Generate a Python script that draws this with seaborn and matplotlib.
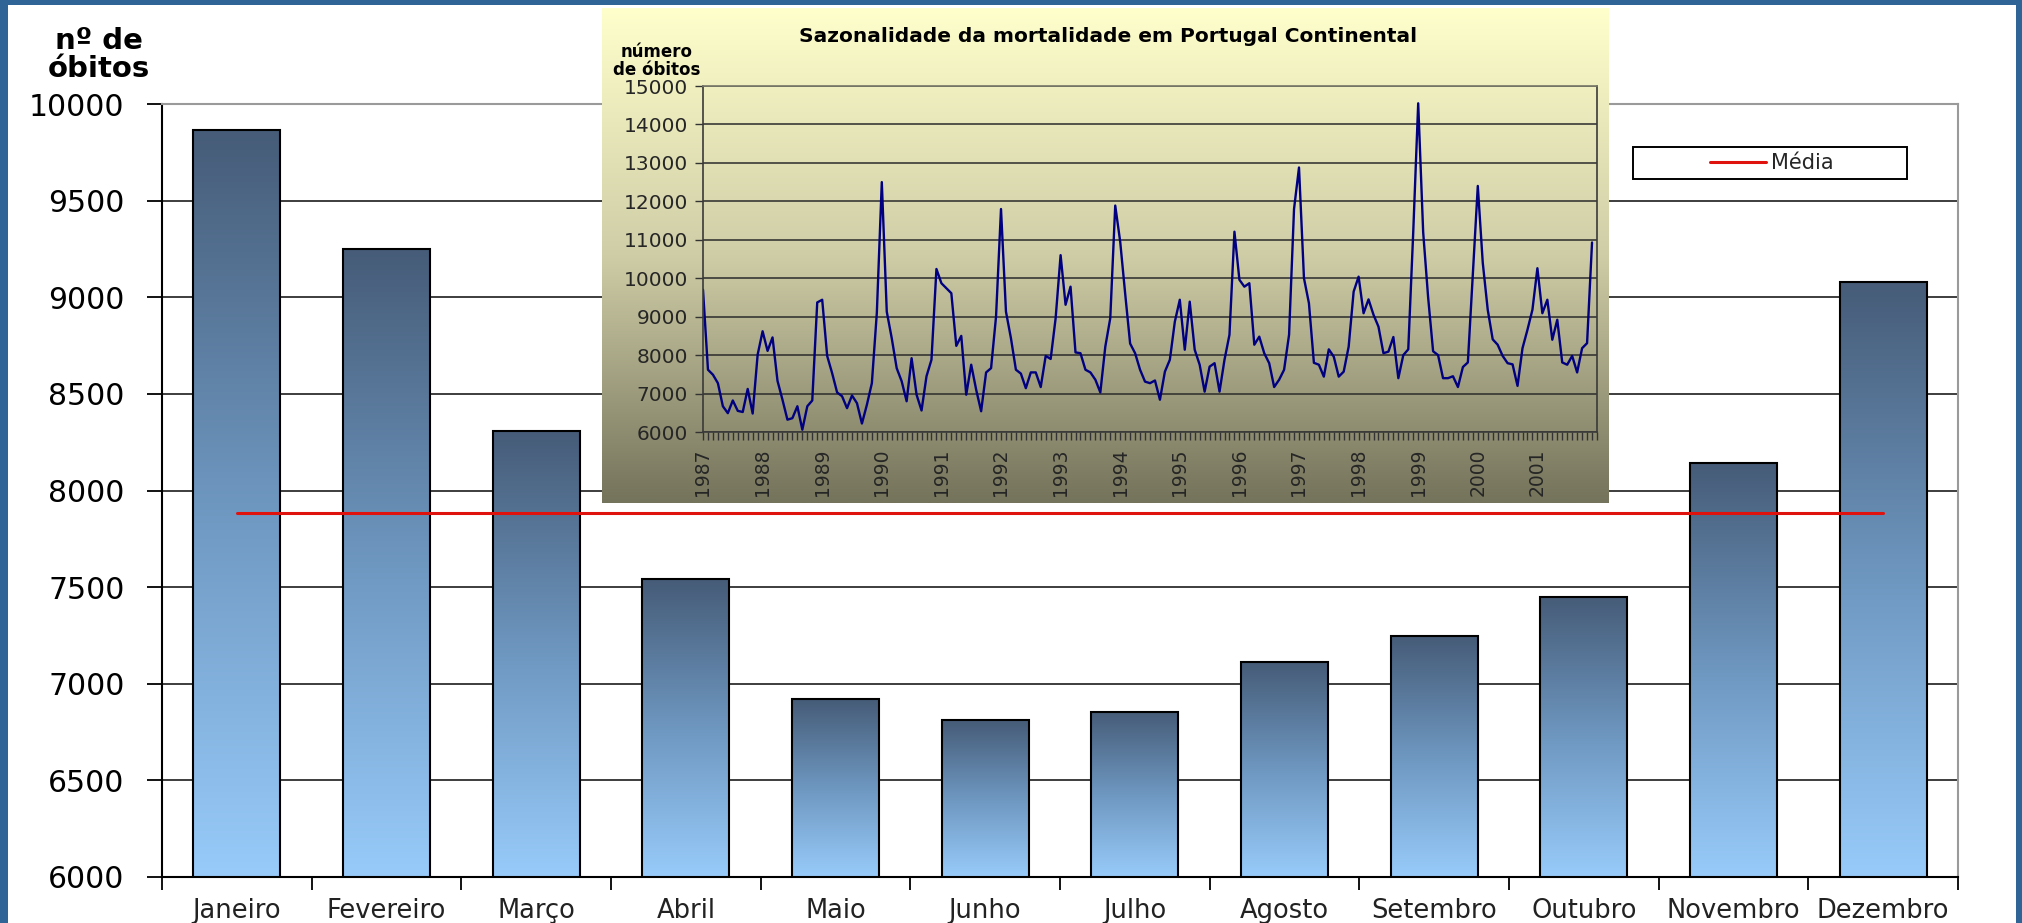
import numpy as np
import pandas as pd
import matplotlib
matplotlib.use("Agg")
import matplotlib.pyplot as plt
import seaborn as sns
from matplotlib.colors import LinearSegmentedColormap
from matplotlib.patches import Rectangle
from matplotlib.ticker import MultipleLocator

# media mensal de obitos (grafico de barras)
meses = ["Janeiro", "Fevereiro", "Março", "Abril", "Maio", "Junho",
         "Julho", "Agosto", "Setembro", "Outubro", "Novembro", "Dezembro"]
obitos_mes = [9865, 9250, 8310, 7540, 6920, 6810, 6855, 7110, 7245, 7450, 8140, 9080]
media = 7885

# serie mensal 1987-2001 (grafico inserido)
ano_inicial = 1987
anos_rotulo = list(range(1987, 2002))
obitos_mensais = [
    9700, 7620, 7490, 7270, 6670, 6490, 6820, 6550, 6520, 7120, 6480, 8010,      # 1987
    8620, 8110, 8460, 7330, 6840, 6320, 6360, 6670, 6060, 6670, 6820, 9370,      # 1988
    9440, 7980, 7530, 7030, 6930, 6620, 6950, 6750, 6220, 6710, 7270, 9100,      # 1989
    12500, 9130, 8440, 7660, 7320, 6800, 7920, 6970, 6560, 7450, 7880, 10240,    # 1990
    9870, 9740, 9610, 8240, 8500, 6970, 7750, 7100, 6540, 7550, 7660, 9000,      # 1991
    11800, 9130, 8440, 7620, 7520, 7140, 7550, 7550, 7170, 7980, 7900, 8960,     # 1992
    10600, 9310, 9780, 8070, 8050, 7620, 7550, 7360, 7030, 8220, 8960, 11890,    # 1993
    10950, 9600, 8300, 8050, 7620, 7310, 7270, 7340, 6840, 7570, 7880, 8870,     # 1994
    9440, 8140, 9390, 8140, 7750, 7050, 7700, 7790, 7050, 7880, 8530, 11210,     # 1995
    9960, 9780, 9870, 8270, 8480, 8050, 7790, 7170, 7360, 7620, 8530, 11800,     # 1996
    12880, 10000, 9350, 7800, 7750, 7440, 8150, 7960, 7440, 7570, 8220, 9650,    # 1997
    10040, 9090, 9450, 9050, 8740, 8050, 8090, 8470, 7400, 8000, 8150, 11200,    # 1998
    14550, 11200, 9500, 8100, 8000, 7400, 7400, 7450, 7170, 7690, 7810, 10100,   # 1999
    12400, 10400, 9180, 8410, 8270, 7980, 7790, 7760, 7200, 8180, 8660, 9180,    # 2000
    10260, 9090, 9440, 8400, 8920, 7810, 7750, 7980, 7550, 8180, 8310, 10930,    # 2001
]

sns.set_theme(style="white")
plt.rcParams["font.family"] = ["DejaVu Sans"]

W, H = 2022, 923
fig = plt.figure(figsize=(W / 100, H / 100), dpi=100)
fig.patch.set_facecolor("#2F6496")


def fx(px):
    return px / W


def fy(py):
    return 1 - py / H


# painel branco dentro da moldura azul
fig.add_artist(Rectangle((fx(8), 0), fx(2016) - fx(8), fy(5), transform=fig.transFigure,
                         facecolor="white", edgecolor="none", zorder=-1))

# ---- grafico principal ----
ax = fig.add_axes([fx(162), fy(877), fx(1958) - fx(162), fy(104) - fy(877)])
ax.set_facecolor("white")
df = pd.DataFrame({"mes": meses, "obitos": obitos_mes, "pos": np.arange(len(meses)), "media": media})
sns.barplot(data=df, x="mes", y="obitos", ax=ax, width=0.58, color="#6f93b8",
            edgecolor="black", linewidth=1.5)

ymin, ymax = 6000, 10000
grad = np.linspace(0, 1, 256).reshape(-1, 1)
cmap_barra = LinearSegmentedColormap.from_list("barra", ["#98CBFA", "#6E97C0", "#465C78"])
for p in ax.patches:
    p.set_facecolor("none")
    x0, w = p.get_x(), p.get_width()
    topo = p.get_y() + p.get_height()
    im = ax.imshow(grad, cmap=cmap_barra, origin="lower", aspect="auto",
                   extent=[x0, x0 + w, ymin, topo], zorder=0.9)
    im.set_clip_path(p)

sns.lineplot(data=df, x="pos", y="media", ax=ax, color="#E0120E", lw=2.2, label="Média")

ax.set_xlim(-0.5, len(meses) - 0.5)
ax.set_ylim(ymin, ymax)
ax.set_xlabel("")
ax.set_ylabel("")
ax.set_xticks(range(len(meses)))
ax.set_xticklabels(meses, fontsize=18.5, color="#222222")
ax.set_xticks(np.arange(-0.5, len(meses), 1), minor=True)
ax.tick_params(axis="x", which="major", length=0, pad=15)
ax.tick_params(axis="x", which="minor", length=9, width=1.3, color="black", direction="out", bottom=True)
ax.set_yticks(range(6000, 10001, 500))
ax.tick_params(axis="y", length=11, width=1.3, color="black", direction="out", left=True,
               pad=16, labelsize=21.5, labelcolor="black")
ax.yaxis.grid(True, color="#1c1c1c", lw=1.2)
ax.set_axisbelow(True)
for lado in ["left", "bottom"]:
    ax.spines[lado].set_color("black")
    ax.spines[lado].set_linewidth(1.5)
for lado in ["top", "right"]:
    ax.spines[lado].set_color("#9a9a9a")
    ax.spines[lado].set_linewidth(1.5)

ax.legend(loc="center left", bbox_to_anchor=(fx(1710), fy(163)), bbox_transform=fig.transFigure,
          frameon=False, fontsize=15, handlelength=2.7, handletextpad=0.25,
          borderpad=0, borderaxespad=0)
fig.add_artist(Rectangle((fx(1633), fy(179)), fx(1907) - fx(1633), fy(147) - fy(179),
                         transform=fig.transFigure, fill=False, edgecolor="black", lw=1.4, zorder=5))

fig.text(fx(99), fy(55), "nº de\nóbitos", ha="center", va="center", fontsize=21,
         fontweight="bold", linespacing=1.0, color="black")

# ---- grafico inserido ----
fundo = fig.add_axes([fx(602), fy(503), fx(1609) - fx(602), fy(8) - fy(503)])
cmap_fundo = LinearSegmentedColormap.from_list("fundo", ["#74735B", "#CFCDA6", "#FFFFCC"])
fundo.imshow(grad, cmap=cmap_fundo, origin="lower", aspect="auto", extent=[0, 1, 0, 1])
fundo.axis("off")

axi = fig.add_axes([fx(703), fy(432), fx(1597) - fx(703), fy(86) - fy(432)])
axi.set_facecolor("none")
datas = ano_inicial + np.arange(len(obitos_mensais)) / 12
sns.lineplot(x=datas, y=obitos_mensais, ax=axi, color="#000080", lw=1.7)
axi.set_xlim(1987, 2002)
axi.set_ylim(6000, 15000)
axi.set_xlabel("")
axi.set_ylabel("")
axi.set_yticks(range(6000, 15001, 1000))
axi.yaxis.grid(True, color="#2b2b2b", lw=1.1)
axi.set_xticks(anos_rotulo)
axi.set_xticklabels([str(a) for a in anos_rotulo], rotation=90, fontsize=13.5)
axi.xaxis.set_minor_locator(MultipleLocator(1 / 12))
axi.tick_params(axis="x", which="both", length=6, width=1, color="#333333", direction="out",
                bottom=True, pad=6)
axi.tick_params(axis="y", length=6, width=1, color="#333333", direction="out", left=True,
                pad=5, labelsize=14.5)
for lado in ["left", "bottom", "right"]:
    axi.spines[lado].set_color("#3a3a3a")
    axi.spines[lado].set_linewidth(1.2)
axi.spines["top"].set_color("#7a7a6a")

fig.text(fx(1108), fy(36), "Sazonalidade da mortalidade em Portugal Continental",
         ha="center", va="center", fontsize=14.5, fontweight="bold", color="black")
fig.text(fx(657), fy(61), "número\nde óbitos", ha="center", va="center", fontsize=12,
         fontweight="bold", linespacing=1.05, color="black")

fig.savefig("out.png", dpi=100, facecolor=fig.get_facecolor())
